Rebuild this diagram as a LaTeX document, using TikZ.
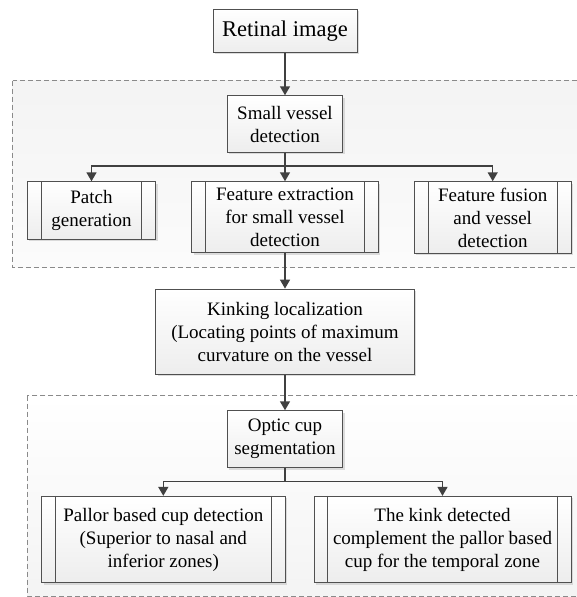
\documentclass[tikz,border=0pt]{standalone}
\usepackage{fontspec}
\setmainfont{LiberationSerif}[Extension=.ttf, UprightFont=*-Regular, BoldFont=*-Bold, ItalicFont=*-Italic, BoldItalicFont=*-BoldItalic]
\usetikzlibrary{arrows.meta,shadows}

\definecolor{lineclr}{HTML}{404040}
\definecolor{edgeclr}{HTML}{505050}
\definecolor{dashclr}{HTML}{8A8A8A}

\tikzset{
  x=1pt, y=-1pt,
  procbox/.style={draw=edgeclr, line width=0.9pt, top color=white, bottom color=gray!14,
    drop shadow={shadow xshift=2pt, shadow yshift=-2pt, fill=gray!45, opacity=0.6},
    align=center, inner sep=0pt, font=\rmfamily\fontsize{19}{23}\selectfont},
  titlebox/.style={procbox, font=\rmfamily\fontsize{22.5}{27}\selectfont},
  groupbox/.style={draw=dashclr, line width=0.9pt, dash pattern=on 5pt off 3pt},
  flow/.style={draw=lineclr, line width=1.5pt, -{Triangle[length=9pt,width=10pt]}},
  sidebar/.style={draw=edgeclr, line width=0.9pt}
}

% vertical bars of a predefined-process box
\newcommand{\procbars}[1]{%
  \draw[sidebar] ([xshift=14.3pt]#1.north west) -- ([xshift=14.3pt]#1.south west);
  \draw[sidebar] ([xshift=-14.3pt]#1.north east) -- ([xshift=-14.3pt]#1.south east);}

\begin{document}
\begin{tikzpicture}
\useasboundingbox (0,0) rectangle (576,597);
\fill[white] (0,0) rectangle (576,597);

% dashed group regions
\path[groupbox, top color=gray!9, bottom color=gray!3] (12.7,80.7) rectangle (580,267.5);
\path[groupbox, top color=white, bottom color=gray!9] (27.3,395.7) rectangle (580,596);

% nodes
\node[titlebox, minimum width=144pt, minimum height=43.3pt] (ret) at (285,30.7) {Retinal image};
\node[procbox, minimum width=115.4pt, minimum height=56.6pt] (sv) at (285,124) {Small vessel\\detection};

\node[procbox, minimum width=128.4pt, minimum height=57.3pt] (patch) at (91.5,210.4) {Patch\\generation};
\node[procbox, minimum width=186.3pt, minimum height=71pt] (fe) at (285,217.2) {Feature extraction\\for small vessel\\detection};
\node[procbox, minimum width=156.7pt, minimum height=71.6pt] (ff) at (492.7,217.5) {Feature fusion\\and vessel\\detection};

\node[procbox, minimum width=258.6pt, minimum height=85.3pt] (kink) at (285,331.7) {Kinking localization\\(Locating points of maximum\\curvature on the vessel};

\node[procbox, minimum width=115.4pt, minimum height=57pt] (optic) at (285,439.2) {Optic cup\\segmentation};

\node[procbox, minimum width=243.3pt, minimum height=86.4pt] (pallor) at (163.3,539.5) {Pallor based cup detection\\(Superior to nasal and\\inferior zones)};
\node[procbox, minimum width=257pt, minimum height=86.4pt] (kd) at (442.5,539.5) {The kink detected\\complement the pallor based\\cup for the temporal zone};

\procbars{patch}
\procbars{fe}
\procbars{ff}
\procbars{pallor}
\procbars{kd}

% branch points
\coordinate (b1) at (285,166);
\coordinate (b2) at (285,481.7);

% connectors
\draw[flow] (ret) -- (sv);
\draw[flow] (sv) -- (fe);
\draw[flow] (sv.south) -- (b1) -| (patch.north);
\draw[flow] (sv.south) -- (b1) -| (ff.north);
\draw[flow] (fe) -- (kink);
\draw[flow] (kink) -- (optic);
\draw[flow] (optic.south) -- (b2) -| (pallor.north);
\draw[flow] (optic.south) -- (b2) -| (kd.north);
\end{tikzpicture}
\end{document}
